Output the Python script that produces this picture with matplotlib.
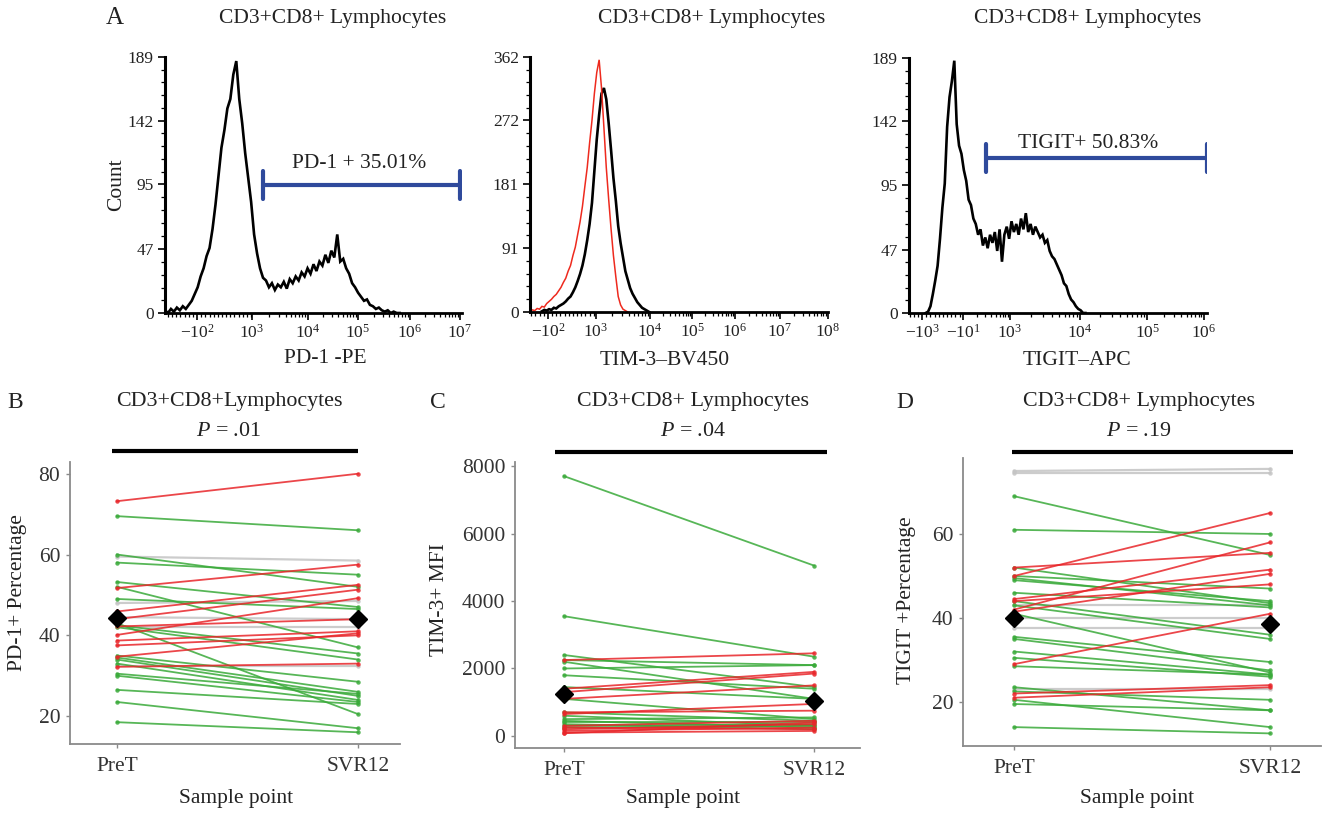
#!/usr/bin/env python3
import numpy as np
import matplotlib
matplotlib.use("Agg")
import matplotlib.pyplot as plt

plt.rcParams["font.family"] = "Liberation Serif"
plt.rcParams["mathtext.fontset"] = "custom"
plt.rcParams["mathtext.rm"] = "Liberation Serif"
plt.rcParams["mathtext.it"] = "Liberation Serif:italic"

W, H = 1322, 813

# ---------------- panel A: histograms (channel scale 0..1000) ----------------
pd1_start, pd1_step = 0, 10
pd1_counts = [2, 0, 3, 1, 4, 2, 5, 3, 6, 9, 14, 19, 27, 33, 42, 48, 62, 80, 101, 122,
              135, 151, 158, 176, 186, 158, 140, 118, 100, 82, 58, 44, 33, 26, 24, 19,
              22, 17, 21, 19, 23, 18, 25, 22, 27, 24, 30, 27, 33, 29, 36, 31, 38, 35,
              43, 37, 46, 41, 58, 38, 40, 33, 29, 22, 19, 15, 12, 9, 10, 6, 5, 3, 4, 2,
              1, 2, 0, 1, 0, 0]
pd1_ticks = [108, 293, 481, 650, 825, 993]
pd1_ticklabels = [r"$-10^{2}$", r"$10^{3}$", r"$10^{4}$", r"$10^{5}$", r"$10^{6}$", r"$10^{7}$"]
pd1_yticks = [0, 47, 95, 142, 189]
pd1_gate = (330, 993, 94.5)

tim_red_start, tim_red_step = 0, 8
tim_red_counts = [1, 3, 2, 5, 4, 8, 7, 12, 15, 18, 22, 25, 30, 35, 42, 48, 58, 66, 80, 92,
                  110, 128, 150, 178, 205, 240, 272, 310, 340, 358, 318, 262, 205, 160,
                  118, 80, 50, 22, 10, 4, 2, 0]
tim_blk_start, tim_blk_step = 40, 8
tim_blk_counts = [1, 3, 2, 4, 3, 6, 5, 8, 10, 12, 15, 19, 22, 28, 35, 44, 54, 66, 82, 102,
                  125, 155, 200, 245, 280, 310, 318, 302, 268, 230, 190, 158, 122, 98, 78,
                  58, 46, 34, 26, 20, 14, 10, 6, 4, 2, 0]
tim_ticks = [60, 221, 403, 544, 688, 839, 1000]
tim_ticklabels = [r"$-10^{2}$", r"$10^{3}$", r"$10^{4}$", r"$10^{5}$", r"$10^{6}$",
                  r"$10^{7}$", r"$10^{8}$"]
tim_yticks = [0, 91, 181, 272, 362]

tig_start, tig_step = 56, 8
tig_counts = [0, 1, 5, 14, 24, 35, 55, 78, 96, 138, 160, 172, 187, 140, 124, 118, 106, 98,
              84, 80, 70, 66, 58, 62, 50, 56, 48, 58, 52, 60, 46, 62, 38, 58, 64, 55, 68,
              60, 66, 58, 70, 62, 74, 60, 66, 58, 64, 60, 56, 58, 52, 54, 46, 42, 40, 36,
              32, 28, 22, 20, 14, 10, 8, 5, 3, 2, 0, 0]
tig_ticks = [44, 181, 339, 574, 799, 990]
tig_ticklabels = [r"$-10^{3}$", r"$-10^{1}$", r"$10^{3}$", r"$10^{4}$", r"$10^{5}$", r"$10^{6}$"]
tig_yticks = [0, 47, 95, 142, 189]
tig_gate = (258, 1000, 115)

# ---------------- panels B-D: paired values ----------------
samples = ["PreT", "SVR12"]

pd1_red_pre = [73.2, 51.7, 45.9, 44.0, 42.2, 40.1, 38.7, 37.5, 34.7, 32.2]
pd1_red_svr = [80.0, 57.5, 52.5, 51.3, 44.0, 49.2, 41.0, 40.0, 40.5, 33.0]
pd1_grn_pre = [69.5, 60.0, 58.0, 53.2, 52.0, 49.0, 43.0, 42.5, 42.0, 35.0, 34.5, 34.0,
               33.0, 30.5, 30.0, 26.5, 23.5, 18.5]
pd1_grn_svr = [66.0, 52.0, 55.0, 47.0, 37.0, 46.5, 20.5, 35.5, 34.0, 28.5, 26.0, 25.0,
               24.0, 25.5, 23.5, 23.0, 17.0, 16.0]
pd1_gry_pre = [59.5, 48.0, 44.5, 42.0, 32.5]
pd1_gry_svr = [58.5, 48.5, 44.0, 42.0, 32.5]
pd1_mean = [44.3, 44.1]

tim_grn_pre = [7700, 3550, 2400, 2250, 2200, 2000, 1800, 1450, 1100, 700, 600, 500, 450,
               400, 350, 300, 250]
tim_grn_svr = [5050, 2350, 1450, 2100, 1100, 2100, 1400, 1100, 500, 450, 300, 550, 250,
               400, 200, 350, 300]
tim_red_pre = [2250, 1400, 1300, 1100, 700, 650, 300, 250, 200, 150, 100, 80]
tim_red_svr = [2450, 1900, 1850, 1500, 750, 950, 450, 200, 350, 250, 150, 400]
tim_mean = [1250, 1050]

tig_gry_pre = [75.0, 74.5, 43.0, 40.0, 37.5, 23.0]
tig_gry_svr = [75.5, 74.5, 43.0, 40.0, 37.5, 23.0]
tig_grn_pre = [69.0, 61.0, 52.0, 50.0, 49.5, 49.0, 46.0, 44.0, 43.0, 41.0, 35.5, 35.0,
               32.0, 30.5, 28.5, 23.5, 22.5, 20.5, 19.5, 14.0]
tig_grn_svr = [55.0, 60.0, 43.5, 47.0, 43.0, 44.0, 42.5, 36.0, 35.0, 27.0, 29.5, 27.5,
               26.5, 26.0, 26.5, 18.0, 20.5, 14.0, 18.0, 12.5]
tig_red_pre = [50.0, 42.0, 52.0, 44.5, 41.5, 44.0, 29.0, 22.0, 21.0]
tig_red_svr = [65.0, 58.0, 55.5, 51.5, 50.5, 48.0, 41.0, 24.0, 23.5]
tig_mean = [40.0, 38.5]

GREEN = "#3aaa3a"
RED = "#e8262a"
GREY = "#c4c4c4"
BLUE = "#2f4a9c"
TXT = "#222222"

fig = plt.figure(figsize=(W / 100, H / 100), dpi=100)


def px_axes(l, t, r, b):
    return fig.add_axes([l / W, 1 - b / H, (r - l) / W, (b - t) / H])


def ftext(x, y, s, **kw):
    kw.setdefault("ha", "center")
    kw.setdefault("va", "center")
    kw.setdefault("color", TXT)
    fig.text(x / W, 1 - y / H, s, **kw)


def minor_positions(majors):
    pos = []
    for a, b in zip(majors[:-1], majors[1:]):
        for k in range(2, 10):
            pos.append(a + np.log10(k) * (b - a))
    return pos


def hist_axes(ax, ymax, yticks, xticks, xlabels):
    ax.set_xlim(0, 1000)
    ax.set_ylim(0, ymax)
    for s in ("top", "right"):
        ax.spines[s].set_visible(False)
    ax.spines["left"].set_linewidth(2.2)
    ax.spines["bottom"].set_linewidth(2.0)
    ax.set_yticks(yticks)
    ax.set_yticks([y for a, b in zip(yticks[:-1], yticks[1:])
                   for y in np.linspace(a, b, 6)[1:-1]], minor=True)
    ax.set_xticks(xticks)
    ax.set_xticklabels(xlabels)
    lin = list(np.arange(xticks[0] % 14, xticks[1], 14))
    ax.set_xticks(lin + minor_positions(xticks[1:]), minor=True)
    ax.tick_params(which="major", length=5, width=1.2, labelsize=12.5, colors="k",
                   labelcolor=TXT, pad=3)
    ax.tick_params(which="minor", length=3, width=0.9, colors="k")


def draw_hist(ax, start, step, counts, color, lw):
    x = start + step * np.arange(len(counts))
    ax.plot(x, counts, color=color, lw=lw, solid_joinstyle="miter")


def draw_gate(ax, x0, x1, y, cap):
    ax.plot([x0, x1], [y, y], color=BLUE, lw=3, solid_capstyle="butt")
    for xx in (x0, x1):
        ax.plot([xx, xx], [y - cap, y + cap], color=BLUE, lw=3, solid_capstyle="round")


# A1
ax1 = px_axes(165, 57, 462, 313)
hist_axes(ax1, 189, pd1_yticks, pd1_ticks, pd1_ticklabels)
draw_hist(ax1, pd1_start, pd1_step, pd1_counts, "k", 1.9)
draw_gate(ax1, pd1_gate[0], pd1_gate[1], pd1_gate[2], 10.5)
ax1.text(653, 110.7, "PD-1 + 35.01%", ha="center", va="center", fontsize=15.5, color=TXT)

# A2
ax2 = px_axes(530, 57, 828, 312)
hist_axes(ax2, 362, tim_yticks, tim_ticks, tim_ticklabels)
draw_hist(ax2, tim_blk_start, tim_blk_step, tim_blk_counts, "k", 1.9)
draw_hist(ax2, tim_red_start, tim_red_step, tim_red_counts, "#ee2a1e", 1.1)

# A3
ax3 = px_axes(909, 58, 1207, 313)
hist_axes(ax3, 189, tig_yticks, tig_ticks, tig_ticklabels)
draw_hist(ax3, tig_start, tig_step, tig_counts, "k", 1.9)
draw_gate(ax3, tig_gate[0], tig_gate[1], tig_gate[2], 10.5)
ax3.text(601, 126, "TIGIT+ 50.83%", ha="center", va="center", fontsize=15.5, color=TXT)

ftext(115, 18, "A", fontsize=18)
for cx in (333, 712, 1088):
    ftext(cx, 18, "CD3+CD8+ Lymphocytes", fontsize=15.5)
ftext(117, 185, "Count", fontsize=15.5, rotation=90)
ftext(325, 358, "PD-1 -PE", fontsize=15.5)
ftext(665, 360, "TIM-3\u2013BV450", fontsize=15.5)
ftext(1077, 360, "TIGIT\u2013APC", fontsize=15.5)


# ---------------- bottom panels ----------------
def paired(ax, pre, svr, color, lw=1.3):
    for a, b in zip(pre, svr):
        ax.plot([0, 1], [a, b], color=color, lw=lw, alpha=0.85,
                marker="o", ms=3.2, mew=0)


def paired_axes(ax, xlim, ylim, yticks, bar_x, bar_y):
    ax.set_xlim(*xlim)
    ax.set_ylim(*ylim)
    for s in ("top", "right"):
        ax.spines[s].set_visible(False)
    for s in ("left", "bottom"):
        ax.spines[s].set_color("#8a8a8a")
        ax.spines[s].set_linewidth(1.3)
    ax.set_xticks([0, 1])
    ax.set_xticklabels(samples)
    ax.set_yticks(yticks)
    ax.tick_params(length=3, width=1, colors="#8a8a8a", labelcolor="#333333",
                   labelsize=15.5, pad=4)
    ax.tick_params(axis="x", pad=6)
    ax.plot(bar_x, [bar_y, bar_y], color="k", lw=3, transform=ax.get_xaxis_transform(),
            clip_on=False, solid_capstyle="butt")


axB = px_axes(70, 462, 400, 744)
paired_axes(axB, (-0.195, 1.174), (13.1, 82.9), [20, 40, 60, 80], [-0.02, 1.0], 1.039)
paired(axB, pd1_gry_pre, pd1_gry_svr, GREY, 1.6)
paired(axB, pd1_grn_pre, pd1_grn_svr, GREEN)
paired(axB, pd1_red_pre, pd1_red_svr, RED)
axB.plot([0, 1], pd1_mean, ls="none", marker="D", ms=9, color="k", zorder=5)

axC = px_axes(515, 462, 860, 748)
paired_axes(axC, (-0.196, 1.184), (-356, 8119), [0, 2000, 4000, 6000, 8000],
            [-0.036, 1.052], 1.035)
paired(axC, tim_grn_pre, tim_grn_svr, GREEN)
paired(axC, tim_red_pre, tim_red_svr, RED)
axC.plot([0, 1], tim_mean, ls="none", marker="D", ms=9, color="k", zorder=5)

axD = px_axes(963, 458, 1321, 746)
paired_axes(axD, (-0.2, 1.199), (9.5, 78.1), [20, 40, 60], [-0.008, 1.09], 1.021)
paired(axD, tig_gry_pre, tig_gry_svr, GREY, 1.6)
paired(axD, tig_grn_pre, tig_grn_svr, GREEN)
paired(axD, tig_red_pre, tig_red_svr, RED)
axD.plot([0, 1], tig_mean, ls="none", marker="D", ms=9, color="k", zorder=5)

ftext(15, 403, "B", fontsize=17)
ftext(438, 403, "C", fontsize=17)
ftext(905, 403, "D", fontsize=17)
ftext(229, 401, "CD3+CD8+Lymphocytes", fontsize=15.8)
ftext(693, 401, "CD3+CD8+ Lymphocytes", fontsize=15.8)
ftext(1139, 401, "CD3+CD8+ Lymphocytes", fontsize=15.8)
ftext(229, 431, r"$P$ = .01", fontsize=15.8)
ftext(693, 431, r"$P$ = .04", fontsize=15.8)
ftext(1139, 431, r"$P$ = .19", fontsize=15.8)
ftext(18, 593, "PD-1+ Percentage", fontsize=15.5, rotation=90)
ftext(439, 600, "TIM-3+ MFI", fontsize=15.5, rotation=90)
ftext(907, 600, "TIGIT +Percentage", fontsize=15.5, rotation=90)
ftext(236, 798, "Sample point", fontsize=15.5)
ftext(683, 798, "Sample point", fontsize=15.5)
ftext(1137, 798, "Sample point", fontsize=15.5)

fig.savefig("out.png", dpi=100)
